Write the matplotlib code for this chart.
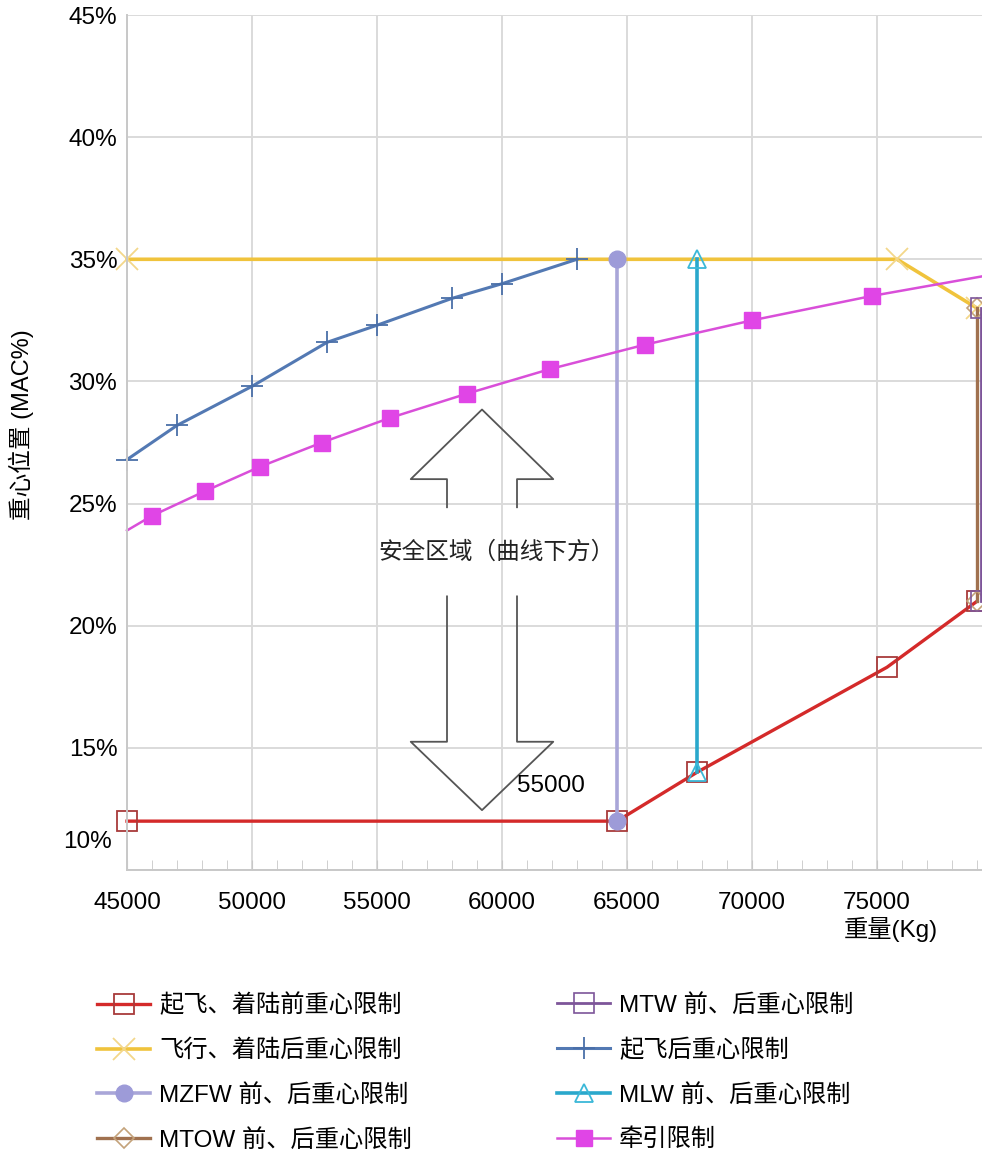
import matplotlib
matplotlib.use('Agg')
import matplotlib.pyplot as plt
from matplotlib.transforms import ScaledTranslation

plt.rcParams['font.family'] = ['Liberation Sans', 'Noto Sans CJK SC', 'DejaVu Sans']

# ---- data (weight kg, CG %MAC) ----
fwd_w = [45000, 64600, 67800, 75400, 79000]
fwd_cg = [12.0, 12.0, 14.0, 18.3, 21.0]

aft_w = [45000, 75800, 79000]
aft_cg = [35.0, 35.0, 33.0]

mzfw_w = [64600, 64600]
mzfw_cg = [12.0, 35.0]

mtow_w = [79000, 79000]
mtow_cg = [21.0, 33.0]

mtw_w = [79150, 79150]
mtw_cg = [21.0, 33.0]

to_w = [45000, 47000, 50000, 53000, 55000, 58000, 60000, 63000]
to_cg = [26.8, 28.2, 29.8, 31.6, 32.3, 33.4, 34.0, 35.0]

mlw_w = [67800, 67800]
mlw_cg = [14.0, 35.0]

tow_w = [45000, 46000, 48100, 50300, 52800, 55500, 58600, 61900, 65700, 70000, 74800, 79200]
tow_cg = [23.9, 24.5, 25.5, 26.5, 27.5, 28.5, 29.5, 30.5, 31.5, 32.5, 33.5, 34.3]

x_ticks = [45000, 50000, 55000, 60000, 65000, 70000, 75000]
y_ticks = [10, 15, 20, 25, 30, 35, 40, 45]

fs = 17.5

fig = plt.figure(figsize=(9.82, 11.57), dpi=100)
ax = fig.add_axes([127 / 982, 1 - 870 / 1157, 1 - 127 / 982, (870 - 15) / 1157])

l_fwd, = ax.plot(fwd_w, fwd_cg, color='#d42a2a', lw=2.4, marker='s', ms=14,
                 mfc='none', mec='#a83a3a', mew=1.3)
l_aft, = ax.plot(aft_w, aft_cg, color='#f0c33c', lw=2.6, marker='x', ms=16,
                 mec='#f3d78a', mew=1.3)
l_mzfw, = ax.plot(mzfw_w, mzfw_cg, color='#a9a6d8', lw=2.6, marker='o', ms=12,
                  mfc='#9d9bd8', mec='#9d9bd8')
l_mtow, = ax.plot(mtow_w, mtow_cg, color='#a0714f', lw=2.4, marker='D', ms=10,
                  mfc='none', mec='#c4a27a', mew=1.2)
l_mtw, = ax.plot(mtw_w, mtw_cg, color='#7d5599', lw=2.0, marker='s', ms=14,
                 mfc='none', mec='#7d5599', mew=1.2)
l_to, = ax.plot(to_w, to_cg, color='#5379b3', lw=2.2, marker='+', ms=16,
                mec='#4a6fa8', mew=1.3)
l_mlw, = ax.plot(mlw_w, mlw_cg, color='#2aa8cc', lw=2.6, marker='^', ms=13,
                 mfc='none', mec='#3bb8d8', mew=1.3)
l_tow, = ax.plot(tow_w, tow_cg, color='#d94fd9', lw=1.8, marker='s', ms=12,
                 mfc='#e045e6', mec='#e045e6', markevery=list(range(1, len(tow_w) - 1)))
for ln in [l_fwd, l_aft, l_mzfw, l_mtow, l_mtw, l_to, l_mlw, l_tow]:
    ln.set_clip_on(False)

# safe-zone double arrow (outline, open in the middle for the text)
cx = 59200
head_hw, shaft_hw = 2850, 1400
tip_top, sh_top, gap_top = 28.85, 26.0, 24.85
tip_bot, sh_bot, gap_bot = 12.45, 15.25, 21.2
ax.plot([cx - shaft_hw, cx - shaft_hw, cx - head_hw, cx, cx + head_hw, cx + shaft_hw, cx + shaft_hw],
        [gap_top, sh_top, sh_top, tip_top, sh_top, sh_top, gap_top], color='#555555', lw=1.3)
ax.plot([cx - shaft_hw, cx - shaft_hw, cx - head_hw, cx, cx + head_hw, cx + shaft_hw, cx + shaft_hw],
        [gap_bot, sh_bot, sh_bot, tip_bot, sh_bot, sh_bot, gap_bot], color='#555555', lw=1.3)
ax.text(59800, 23.0, '安全区域（曲线下方）', fontsize=fs - 0.5, ha='center', va='center', color='#222222')
ax.text(60600, 13.45, '55000', fontsize=fs, ha='left', va='center', color='black')

ax.set_xlim(45000, 79200)
ax.set_ylim(10, 45)
ax.set_xticks(x_ticks)
ax.set_xticks(range(46000, 80000, 1000), minor=True)
ax.set_yticks(y_ticks)
ax.set_yticklabels([f'{v}%' for v in y_ticks])
ax.set_xticklabels([str(v) for v in x_ticks])
ax.tick_params(axis='x', which='both', direction='in', length=7, color='#c8c8c8',
               labelsize=fs, pad=16)
ax.tick_params(axis='y', length=0, labelsize=fs, pad=7)

# the 10% label sits a bit higher in the original
lab10 = ax.yaxis.get_major_ticks()[0].label1
lab10.set_transform(lab10.get_transform() + ScaledTranslation(-0.05, 0.30, fig.dpi_scale_trans))

ax.grid(True, which='major', color='#dadada', lw=1.4)
ax.set_axisbelow(True)
for s in ['top', 'right']:
    ax.spines[s].set_visible(False)
for s in ['left', 'bottom']:
    ax.spines[s].set_color('#c8c8c8')
    ax.spines[s].set_linewidth(1.4)

ax.set_ylabel('重心位置 (MAC%)', fontsize=fs - 0.5)
ax.yaxis.set_label_coords((34 - 127) / 855, (870 - 425) / 855)
fig.text(938 / 982, 1 - 930 / 1157, '重量(Kg)', fontsize=fs, ha='right', va='center')

leg_kw = dict(frameon=False, fontsize=fs, loc='upper left', borderpad=0, borderaxespad=0,
              handlelength=2.2, handletextpad=0.35, labelspacing=0.9, numpoints=1)
fig.legend([l_fwd, l_aft, l_mzfw, l_mtow],
           ['起飞、着陆前重心限制', '飞行、着陆后重心限制', 'MZFW 前、后重心限制', 'MTOW 前、后重心限制'],
           bbox_to_anchor=(97 / 982, 1 - 994 / 1157), **leg_kw)
fig.legend([l_mtw, l_to, l_mlw, l_tow],
           ['MTW 前、后重心限制', '起飞后重心限制', 'MLW 前、后重心限制', '牵引限制'],
           bbox_to_anchor=(557 / 982, 1 - 994 / 1157), **leg_kw)

fig.savefig('out.png', dpi=100)
